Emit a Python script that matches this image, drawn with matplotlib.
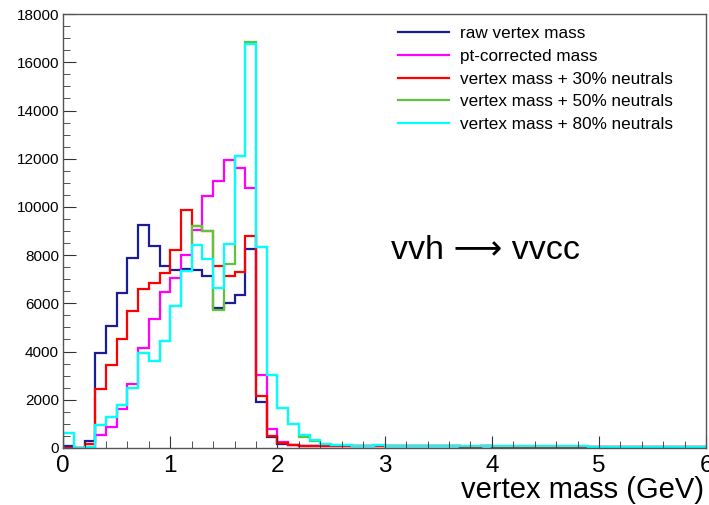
import numpy as np
import matplotlib
matplotlib.use("Agg")
import matplotlib.pyplot as plt
from matplotlib.ticker import MultipleLocator

plt.rcParams['font.family'] = ['Liberation Sans', 'DejaVu Sans']

# 60 bins of 0.1 GeV from 0 to 6
edges = np.linspace(0, 6, 61)

tail_low = [90, 80, 80, 70, 70, 80, 90, 70, 60, 60, 70, 60, 60, 60, 50, 50, 60, 50, 50,
            50, 50, 40, 40, 50, 40, 40, 40, 40, 30, 40, 30, 30, 30, 30, 30, 30, 30]
tail_cyan = [350, 150, 120, 110, 100, 100, 110, 100, 90, 90, 100, 90, 80, 80, 90, 80, 80, 70, 70,
             70, 70, 60, 60, 60, 60, 60, 50, 50, 50, 50, 50, 50, 50, 50, 50, 50, 50]

raw_mass = [100, 0, 290, 3940, 5080, 6430, 7890, 9230, 8370, 7550, 7370, 7430, 7400, 7130, 5800,
            6020, 6340, 8270, 1910, 460, 180, 110, 80] + tail_low
pt_corrected = [0, 0, 50, 530, 870, 1630, 2670, 4160, 5330, 6480, 7060, 8000, 9030, 10460, 11070,
                11930, 11620, 10790, 3020, 800, 250, 140, 100] + tail_low
neutrals_30 = [0, 0, 180, 2460, 3430, 4540, 5690, 6610, 6850, 7240, 8200, 9890, 9210, 8990, 7540,
               7130, 7300, 8790, 2140, 480, 210, 140, 100] + tail_low
neutrals_50 = [620, 0, 40, 940, 1290, 1770, 2500, 3920, 3600, 4440, 5880, 7350, 9210, 8990, 5710,
               7620, 12100, 16830, 8320, 3020, 1670, 1000, 450, 300] + tail_cyan[1:]
neutrals_80 = [620, 0, 40, 940, 1290, 1770, 2500, 3920, 3600, 4440, 5880, 7350, 8410, 7860, 6650,
               8450, 12110, 16780, 8320, 3020, 1670, 1000, 550] + tail_cyan

series = [
    (raw_mass, "#1c1c96", "raw vertex mass"),
    (pt_corrected, "#ff00ff", "pt-corrected mass"),
    (neutrals_30, "#ff0000", "vertex mass + 30% neutrals"),
    (neutrals_50, "#5fc43a", "vertex mass + 50% neutrals"),
    (neutrals_80, "#00ffff", "vertex mass + 80% neutrals"),
]

fig = plt.figure(figsize=(7.09, 5.05), dpi=100)
ax = fig.add_axes([0.089, 0.113, 0.907, 0.859])

for vals, col, lab in series:
    ax.stairs(vals, edges, color=col, lw=1.6, label=lab)

ax.set_xlim(0, 6)
ax.set_ylim(0, 18000)
ax.xaxis.set_major_locator(MultipleLocator(1))
ax.xaxis.set_minor_locator(MultipleLocator(0.2))
ax.yaxis.set_major_locator(MultipleLocator(2000))
ax.yaxis.set_minor_locator(MultipleLocator(500))
ax.tick_params(which='both', direction='in', top=False, right=False, color='#333333')
ax.tick_params(which='major', length=9)
ax.tick_params(which='minor', length=5)
ax.tick_params(axis='x', labelsize=17.5, pad=5)
ax.tick_params(axis='y', labelsize=11, pad=3)
for s in ax.spines.values():
    s.set_color('#555555')
    s.set_linewidth(1.0)

fig.text(0.993, 0.014, "vertex mass (GeV)", fontsize=21, ha='right', va='baseline')

ax.text(0.51, 0.455, "vvh \u27f6 vvcc", transform=ax.transAxes, fontsize=24.5,
        ha='left', va='center')

leg = ax.legend(loc='upper left', bbox_to_anchor=(0.521, 0.972), frameon=False, fontsize=12.3,
                handlelength=3.0, handletextpad=0.6, labelspacing=0.45,
                borderpad=0, borderaxespad=0)

fig.savefig("out.png", dpi=100)
